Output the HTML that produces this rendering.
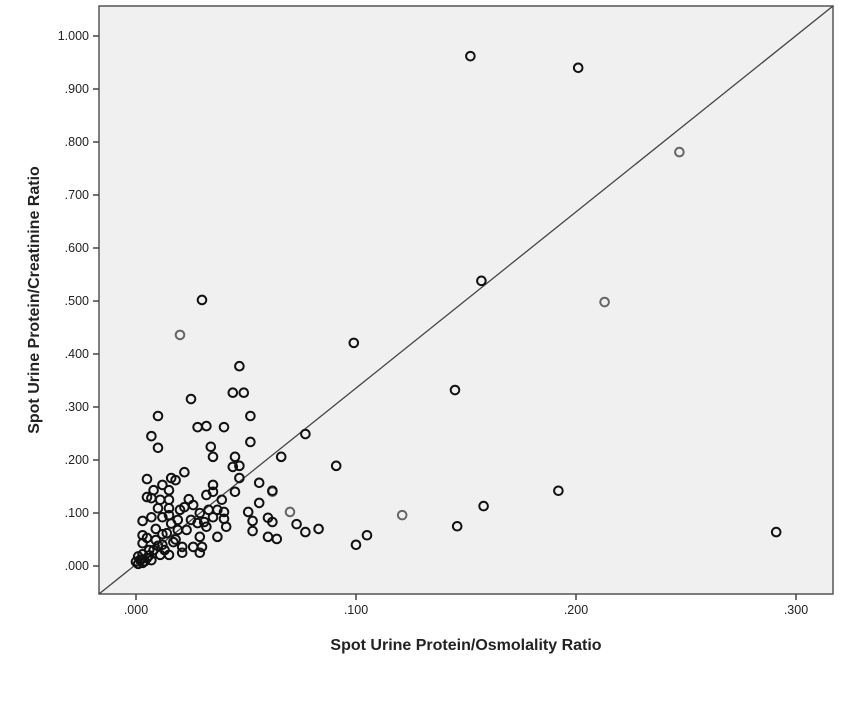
<!DOCTYPE html>
<html><head><meta charset="utf-8"><style>
body{margin:0;background:#fff;}
svg{display:block;font-family:"Liberation Sans",Arial,sans-serif;}
</style></head><body>
<svg id="chart" width="842" height="708" viewBox="0 0 842 708">
<rect x="99" y="6" width="734" height="588" fill="#f0f0f0" stroke="#555" stroke-width="1.5"/>
<line x1="99" y1="594" x2="833" y2="6" stroke="#444" stroke-width="1.3"/>
<g id="yticks"></g><g id="xticks"></g><g id="pts"></g>
<text x="466" y="650" text-anchor="middle" font-size="16" font-weight="bold" fill="#222">Spot Urine Protein/Osmolality Ratio</text>
<text transform="translate(39,300) rotate(-90)" text-anchor="middle" font-size="16" font-weight="bold" fill="#222">Spot Urine Protein/Creatinine Ratio</text>
</svg>
<script>
const xTicks=[0,0.1,0.2,0.3];
const xTickLabels=[".000",".100",".200",".300"];
const yTicks=[0,0.1,0.2,0.3,0.4,0.5,0.6,0.7,0.8,0.9,1.0];
const yTickLabels=[".000",".100",".200",".300",".400",".500",".600",".700",".800",".900","1.000"];
const darkX=[.010,.007,.010,.028,.032,.040,.052,.052,.034,.035,.045,.044,.047,.047,.045,.056,.062,.056,.051,.053,.053,.060,.062,.060,.064,.022,.018,.016,.005,.008,.005,.007,.012,.015,.011,.015,.010,.015,.003,.007,.012,.015,.024,.026,.022,.035,.032,.035,.039,.033,.037,.040,.040,.035,.031,.032,.041,.037,.029,.030,.026,.021,.021,.023,.019,.014,.012,.015,.011,.006,.003,.003,.005,.009,.002,.003,.000,.005,.007,.019,.025,.028,.029,.020,.029,
.001,.002,.004,.001,.003,.006,.008,.010,.013,.017,.009,.012,.018,.016,
.152,.201,.157,.099,.145,.030,.047,.049,.044,.025,.077,.091,.066,.192,.291,.158,.146,.100,.105,.083,.077,.073];
const darkY=[.283,.245,.223,.262,.264,.262,.283,.234,.225,.206,.206,.187,.189,.166,.140,.157,.142,.119,.102,.085,.066,.091,.083,.055,.051,.177,.162,.166,.164,.143,.130,.128,.153,.143,.125,.125,.109,.109,.085,.092,.092,.096,.126,.115,.111,.153,.134,.140,.125,.106,.106,.102,.089,.092,.083,.074,.074,.055,.055,.036,.036,.036,.025,.068,.068,.062,.040,.021,.021,.030,.043,.058,.053,.049,.011,.006,.008,.015,.011,.087,.087,.081,.100,.106,.025,
.004,.012,.009,.018,.022,.020,.030,.038,.030,.045,.070,.060,.050,.080,
.962,.940,.538,.421,.332,.502,.377,.327,.327,.315,.249,.189,.206,.142,.064,.113,.075,.040,.058,.070,.064,.079];
const grayX=[.247,.213,.020,.121,.070,.062];
const grayY=[.781,.498,.436,.096,.102,.140];
const xs=v=>136+v*2200, ys=v=>566-v*530;
const NS="http://www.w3.org/2000/svg";
const yg=document.getElementById('yticks'), xg=document.getElementById('xticks'), pg=document.getElementById('pts');
yTicks.forEach((v,i)=>{
 const l=document.createElementNS(NS,'line');
 
 
 l.setAttribute('x1',93);l.setAttribute('x2',99);l.setAttribute('y1',ys(v));l.setAttribute('y2',ys(v));l.setAttribute('stroke','#444');l.setAttribute('stroke-width',1.5);yg.appendChild(l);
 const t=document.createElementNS(NS,'text');
 
 
 t.setAttribute('x',89);t.setAttribute('y',ys(v)+4);t.setAttribute('text-anchor','end');t.setAttribute('font-size','12.5');t.setAttribute('fill','#222');t.textContent=yTickLabels[i];yg.appendChild(t);
});
xTicks.forEach((v,i)=>{
 const l=document.createElementNS(NS,'line');
 
 
 l.setAttribute('x1',xs(v));l.setAttribute('x2',xs(v));l.setAttribute('y1',594);l.setAttribute('y2',600);l.setAttribute('stroke','#444');l.setAttribute('stroke-width',1.5);xg.appendChild(l);
 const t=document.createElementNS(NS,'text');
 
 
 t.setAttribute('x',xs(v));t.setAttribute('y',614);t.setAttribute('text-anchor','middle');t.setAttribute('font-size','12.5');t.setAttribute('fill','#222');t.textContent=xTickLabels[i];xg.appendChild(t);
});
function pts(X,Y,col){X.forEach((v,i)=>{
 const c=document.createElementNS(NS,'circle');
 
 
 c.setAttribute('cx',xs(v));c.setAttribute('cy',ys(Y[i]));c.setAttribute('r',4.3);c.setAttribute('fill','none');c.setAttribute('stroke',col);c.setAttribute('stroke-width',2);pg.appendChild(c);
});}
pts(grayX,grayY,'#666');
pts(darkX,darkY,'#111');
</script>
</body></html>
